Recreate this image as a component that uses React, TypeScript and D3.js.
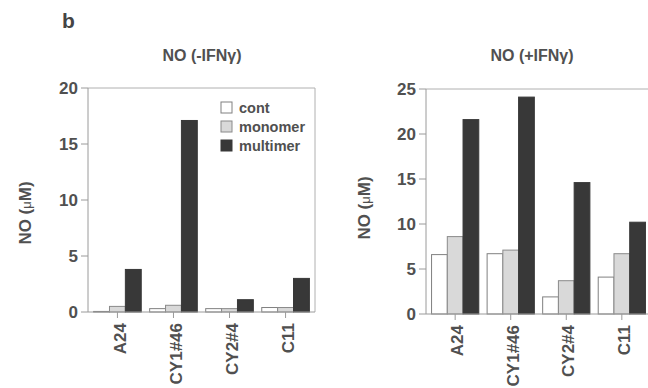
import React from "react";
import * as d3 from "d3";

const categories = ["A24", "CY1#46", "CY2#4", "C11"];
const seriesNames = ["cont", "monomer", "multimer"];

// NO (-IFNγ), µM
const minusCont = [0.05, 0.3, 0.3, 0.4];
const minusMonomer = [0.5, 0.6, 0.3, 0.4];
const minusMultimer = [3.8, 17.1, 1.1, 3.0];

// NO (+IFNγ), µM
const plusCont = [6.6, 6.7, 1.9, 4.1];
const plusMonomer = [8.6, 7.1, 3.7, 6.7];
const plusMultimer = [21.6, 24.1, 14.6, 10.2];

const minusTicks = [0, 5, 10, 15, 20];
const plusTicks = [0, 5, 10, 15, 20, 25];

const fills = ["#ffffff", "#d9d9d9", "#383838"];
const strokes = ["#808080", "#8a8a8a", "#383838"];
const textColor = "#505050";
const axisColor = "#9a9a9a";
const font = "'Liberation Sans', Arial, sans-serif";

type PanelProps = {
  title: string;
  titleX: number;
  left: number;
  right: number;
  top: number;
  bottom: number;
  max: number;
  ticks: number[];
  values: number[][];
  labelX: number;
  labelY: number;
  legend?: boolean;
};

function Panel({ title, titleX, left, right, top, bottom, max, ticks, values, labelX, labelY, legend }: PanelProps) {
  const x = d3.scaleBand<string>().domain(categories).range([left, right]).paddingInner(0.15).paddingOuter(0.1);
  const xs = d3.scaleBand<string>().domain(seriesNames).range([0, x.bandwidth()]);
  const y = d3.scaleLinear().domain([0, max]).range([bottom, top]);

  return (
    <g fontFamily={font} fill={textColor} fontWeight="bold">
      <text x={titleX} y={61} textAnchor="middle" fontSize={16}>
        {title}
      </text>
      <text
        transform={`translate(${labelX},${labelY}) rotate(-90)`}
        textAnchor="middle"
        dy="0.36em"
        fontSize={17}
      >
        NO (<tspan fontSize={13} fontWeight="normal">μ</tspan>M)
      </text>

      {/* frame */}
      <line x1={left} x2={right} y1={top} y2={top} stroke="#b0b0b0" />
      <line x1={right} x2={right} y1={top} y2={bottom} stroke="#b0b0b0" />

      {/* bars */}
      {categories.map((c, i) =>
        seriesNames.map((s, k) => {
          const v = values[k][i];
          return (
            <rect
              key={c + s}
              x={(x(c) ?? 0) + (xs(s) ?? 0)}
              y={y(v)}
              width={xs.bandwidth()}
              height={y(0) - y(v)}
              fill={fills[k]}
              stroke={strokes[k]}
              strokeWidth={1}
            />
          );
        })
      )}

      {/* y axis */}
      <line x1={left} x2={left} y1={top} y2={bottom} stroke={axisColor} />
      {ticks.map((t) => (
        <g key={t}>
          <line x1={left - 7} x2={left} y1={y(t)} y2={y(t)} stroke={axisColor} />
          <text x={left - 10} y={y(t)} dy="0.36em" textAnchor="end" fontSize={17}>
            {t}
          </text>
        </g>
      ))}

      {/* x axis */}
      <line x1={left} x2={right} y1={bottom} y2={bottom} stroke={axisColor} />
      {categories.map((c) => {
        const px = (x(c) ?? 0) + x.bandwidth() / 2;
        return (
          <g key={c}>
            <line x1={px} x2={px} y1={bottom} y2={bottom + 6} stroke={axisColor} />
            <text
              transform={`translate(${px + 2},${bottom + 11}) rotate(-90)`}
              textAnchor="end"
              dy="0.36em"
              fontSize={17}
            >
              {c}
            </text>
          </g>
        );
      })}

      {legend &&
        seriesNames.map((s, k) => (
          <g key={s} transform={`translate(${right - 94},${top + 14 + k * 19})`}>
            <rect x={0} y={0} width={11} height={11} fill={fills[k]} stroke={strokes[k]} />
            <text x={18} y={5.5} dy="0.36em" fontSize={14.5}>
              {s}
            </text>
          </g>
        ))}
    </g>
  );
}

export default function App() {
  return (
    <svg
      width={648}
      height={388}
      style={{ position: "absolute", left: 0, top: 0, background: "#fff" }}
    >
      <rect width={648} height={388} fill="#fff" />
      <text x={62} y={28} fontFamily={font} fontWeight="bold" fontSize={21} fill="#444">
        b
      </text>
      <Panel
        title="NO (-IFNγ)"
        titleX={202}
        left={88}
        right={315}
        top={88}
        bottom={312}
        max={20}
        ticks={minusTicks}
        values={[minusCont, minusMonomer, minusMultimer]}
        labelX={25}
        labelY={213}
        legend
      />
      <Panel
        title="NO (+IFNγ)"
        titleX={532}
        left={426}
        right={651}
        top={89}
        bottom={314}
        max={25}
        ticks={plusTicks}
        values={[plusCont, plusMonomer, plusMultimer]}
        labelX={364}
        labelY={208}
      />
    </svg>
  );
}
